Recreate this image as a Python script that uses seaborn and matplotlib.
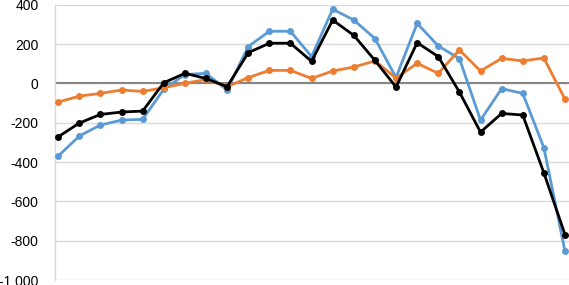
import numpy as np
import pandas as pd
import seaborn as sns
import matplotlib.pyplot as plt

# values (25 periods)
period = list(range(25))
blue = [-370, -268, -212, -187, -183, -30, 45, 51, -34, 187, 265, 265, 136,
        377, 322, 228, 30, 305, 190, 126, -187, -27, -51, -327, -853]
orange = [-95, -65, -51, -34, -41, -22, 0, 20, -17, 29, 66, 66, 25,
          63, 83, 114, 27, 102, 51, 170, 63, 127, 114, 129, -81]
black = [-272, -202, -158, -146, -141, 3, 51, 25, -17, 156, 204, 204, 112,
         322, 244, 117, -19, 207, 136, -44, -248, -153, -161, -455, -769]
yticks = [400, 200, 0, -200, -400, -600, -800, -1000]
ytick_labels = ["400", "200", "0", "-200", "-400", "-600", "-800", "-1 000"]

sns.set_theme(style="white")
plt.rcParams['font.family'] = ['Liberation Sans', 'DejaVu Sans']

fig = plt.figure(figsize=(5.69, 2.85), dpi=100)
ax = fig.add_axes([0.097, 0.0175, 0.903, 0.966])

for vals, col in [(blue, '#5B9BD5'), (orange, '#ED7D31'), (black, '#000000')]:
    sns.lineplot(x=period, y=vals, color=col, marker='o', markersize=5,
                 markeredgewidth=0, linewidth=2, ax=ax, zorder=3)

ax.set_ylim(-1000, 400)
ax.set_xlim(-0.14, 24.19)
ax.set_yticks(yticks)
ax.set_yticklabels(ytick_labels)
ax.set_xticks([])
ax.grid(axis='y', color='#D9D9D9', linewidth=1)
ax.axhline(0, color='#868686', linewidth=1.5, zorder=2)
for s in ['top', 'right', 'bottom']:
    ax.spines[s].set_visible(False)
ax.spines['left'].set_color('#D9D9D9')
ax.spines['left'].set_linewidth(1)
ax.tick_params(axis='y', length=0, pad=12, labelsize=10, labelcolor='#000000')

fig.savefig('out.png', dpi=100)
